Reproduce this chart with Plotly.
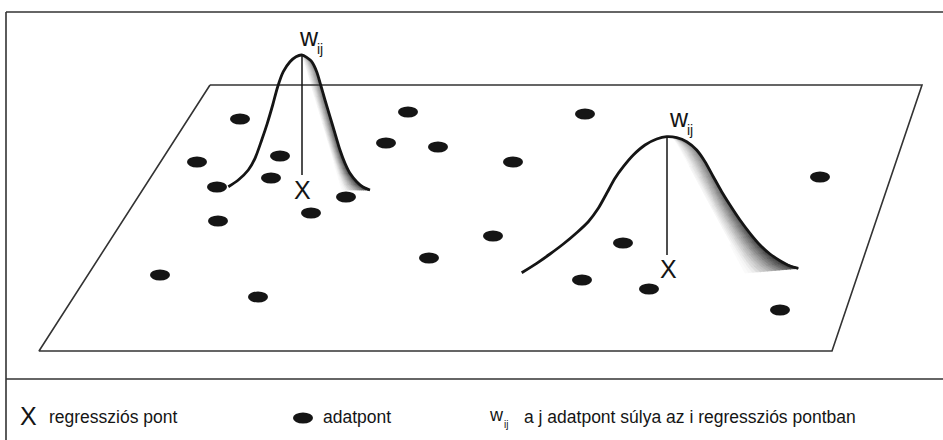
import numpy as np
import plotly.graph_objects as go

W, H = 943, 440
FONT = "Liberation Sans Narrow, Arial Narrow, Liberation Sans, Arial, sans-serif"
INK = "#151515"
LINE = "#333333"

# ---- data points (diagram coordinates, px) ----
pt_x = [240, 408, 585, 197, 280, 386, 438, 513, 217, 271, 346, 311, 218,
        820, 493, 429, 623, 160, 582, 649, 258, 780]
pt_y = [119, 112, 114, 162, 156, 143, 147, 162, 187, 178, 197, 213, 221,
        177, 236, 258, 243, 275, 280, 289, 297, 310]

# ---- plane (parallelogram) ----
plane_x = [210, 922, 832, 39, 210]
plane_y = [85, 85, 351, 351, 85]

# ---- kernel 1 (left, narrow) ----
k1_left_x = [228.3, 238.3, 248.3, 255, 261.7, 267.3, 272.7, 277.7, 283.3, 290, 296, 301.7]
k1_left_y = [186.7, 180, 170, 158.3, 140, 123.3, 105, 86.7, 71.7, 61.7, 56.7, 55]
k1_right_x = [306.7, 311.7, 316.7, 320.7, 325, 330, 335, 340, 345, 350, 356.7, 363.3, 370]
k1_right_y = [57.3, 61.7, 71.7, 85, 100, 116.7, 133.3, 150, 163.3, 173.3, 181.7, 187.3, 190]
k1_stem_x = [302, 302]
k1_stem_y = [55, 175]
k1_edge_x = [302, 342]
k1_edge_y = [57, 190]

# ---- kernel 2 (right, wide) ----
k2_left_x = [521.7, 536.7, 550, 563.3, 576.7, 588.3, 598.3, 606.7, 615, 623.3, 633.3, 645, 656.7, 666.7]
k2_left_y = [272.7, 263.3, 254, 244, 232.7, 221.7, 208.3, 193.3, 178.3, 166.7, 155, 145, 139, 136.7]
k2_right_x = [676.7, 686.7, 696.7, 705, 713.3, 721.7, 730, 740, 750, 760, 770, 780, 790, 798.3]
k2_right_y = [137.7, 141.7, 150, 161.7, 176.7, 191.7, 205, 220, 233.3, 245, 254, 260.7, 266, 268.3]
k2_stem_x = [667, 667]
k2_stem_y = [137, 255]
k2_edge_x = [673, 745]
k2_edge_y = [138, 273]

# ---- labels ----
x_label_pos = [(302.7, 190), (668, 269)]
w_label_pos = [(309, 36.5), (679, 118)]
legend_items = ["regressziós pont", "adatpont", "a j adatpont súlya az i regressziós pontban"]

fig = go.Figure()


def shade(edge_x, edge_y, cx, cy, N=14, M=24):
    cx = np.asarray(cx, float)
    cy = np.asarray(cy, float)
    t = np.linspace(0, 1, M + 1)
    yc = cy[0] + t * (cy[-1] - cy[0])
    xc = np.interp(yc, cy, cx)
    xl = edge_x[0] + t * (edge_x[1] - edge_x[0])
    yl = edge_y[0] + t * (edge_y[1] - edge_y[0])
    groups = {}
    for k in range(N):
        s0, s1 = k / N, (k + 1) / N
        for m in range(M):
            def P(s, i):
                return (xl[i] + (xc[i] - xl[i]) * s, yl[i] + (yc[i] - yl[i]) * s)
            pts = [P(s0, m), P(s1, m), P(s1, m + 1), P(s0, m + 1), P(s0, m)]
            s = (k + 0.5) / N
            v = (m + 0.5) / M
            dark = (s ** 1.3) * (0.55 + 0.45 * v)
            g = int(round((255 - 210 * dark) / 5) * 5)
            g = max(0, min(255, g))
            gx, gy = groups.setdefault(g, ([], []))
            gx.extend([p[0] for p in pts] + [None])
            gy.extend([p[1] for p in pts] + [None])
    for g, (gx, gy) in sorted(groups.items(), reverse=True):
        col = f"rgb({g},{g},{g})"
        fig.add_trace(go.Scatter(x=gx, y=gy, mode="lines", fill="toself",
                                 fillcolor=col, line=dict(color=col, width=0.8),
                                 hoverinfo="skip"))


shade(k1_edge_x, k1_edge_y, k1_right_x, k1_right_y)
shade(k2_edge_x, k2_edge_y, k2_right_x, k2_right_y)

# plane
fig.add_trace(go.Scatter(x=plane_x, y=plane_y, mode="lines",
                         line=dict(color=LINE, width=1.6), hoverinfo="skip"))

# stems
for sx, sy in [(k1_stem_x, k1_stem_y), (k2_stem_x, k2_stem_y)]:
    fig.add_trace(go.Scatter(x=sx, y=sy, mode="lines",
                             line=dict(color=INK, width=1.5), hoverinfo="skip"))

# kernel curves
for lx, ly, rx, ry in [(k1_left_x, k1_left_y, k1_right_x, k1_right_y),
                       (k2_left_x, k2_left_y, k2_right_x, k2_right_y)]:
    fig.add_trace(go.Scatter(x=list(lx) + list(rx), y=list(ly) + list(ry), mode="lines",
                             line=dict(color=INK, width=2.8, shape="spline", smoothing=0.8),
                             hoverinfo="skip"))

shapes = []
RX, RY = 10, 5.5
for x, y in zip(pt_x, pt_y):
    shapes.append(dict(type="circle", xref="x", yref="y", x0=x - RX, x1=x + RX,
                       y0=y - RY, y1=y + RY, fillcolor=INK, line=dict(width=0)))
# legend marker
leg_pt = (303, 418)
shapes.append(dict(type="circle", xref="x", yref="y", x0=leg_pt[0] - RX, x1=leg_pt[0] + RX,
                   y0=leg_pt[1] - RY, y1=leg_pt[1] + RY, fillcolor=INK, line=dict(width=0)))
# frame
for x0, y0, x1, y1 in [(6, 12, 943, 12), (6, 12, 6, 440), (6, 379, 943, 379)]:
    shapes.append(dict(type="line", xref="x", yref="y", x0=x0, y0=y0, x1=x1, y1=y1,
                       line=dict(color=LINE, width=1.6)))

ann = []


def txt(x, y, s, size, xanchor="center"):
    ann.append(dict(x=x, y=y, xref="x", yref="y", text=s, showarrow=False,
                    xanchor=xanchor, yanchor="middle",
                    font=dict(family=FONT, size=size, color=INK)))


for (x, y) in x_label_pos:
    txt(x, y, "X", 25)
for (x, y) in w_label_pos:
    txt(x, y, "w", 25)
    txt(x + 10.5, y + 12, "ij", 14)

# legend row
txt(28, 416, "X", 25)
txt(47, 417, legend_items[0], 17.5, "left")
txt(321, 417, legend_items[1], 17.5, "left")
txt(496.7, 415, "w", 18)
txt(505.8, 424, "ij", 10)
txt(522, 417, legend_items[2], 17.5, "left")

fig.update_layout(
    width=W, height=H, margin=dict(l=0, r=0, t=0, b=0),
    paper_bgcolor="white", plot_bgcolor="white", showlegend=False,
    xaxis=dict(range=[0, W], visible=False, fixedrange=True),
    yaxis=dict(range=[H, 0], visible=False, fixedrange=True),
    shapes=shapes, annotations=ann,
)

fig.write_html("out.html", config={"displayModeBar": False},
               post_script="document.body.style.margin='0';")
